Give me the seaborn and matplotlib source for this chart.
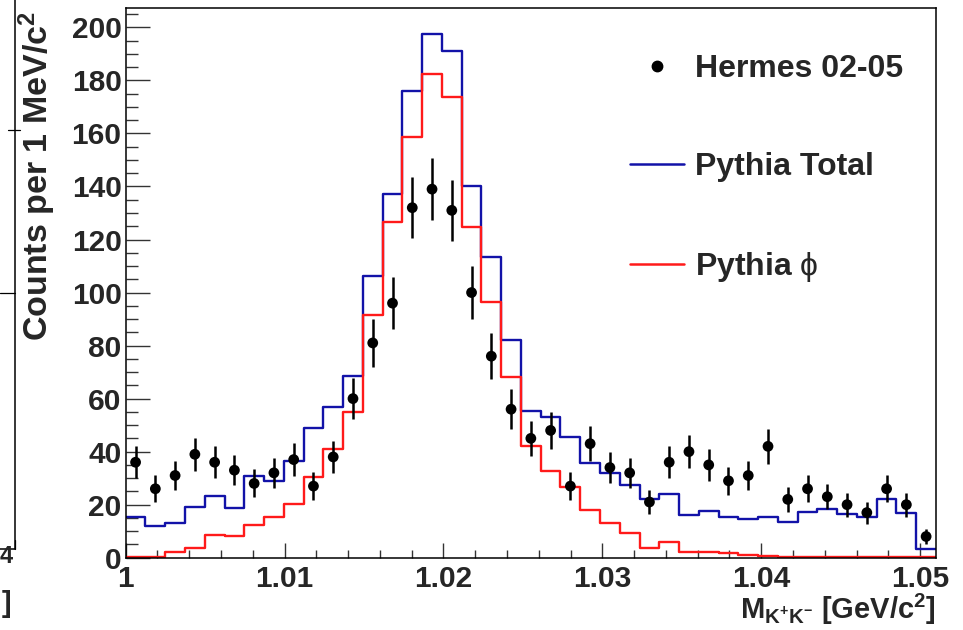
import numpy as np
import pandas as pd
import matplotlib
matplotlib.use("Agg")
import matplotlib.pyplot as plt
from matplotlib.lines import Line2D
from matplotlib.ticker import MultipleLocator, FixedLocator, FixedFormatter
import seaborn as sns

# K+K- invariant mass binning (GeV/c^2)
mass_lo = 1.000
mass_hi = 1.051
n_bins = 41

# Measured counts per bin
hermes_counts = [36, 26, 31, 39, 36, 33, 28, 32, 37, 27,
                 38, 60, 81, 96, 132, 139, 131, 100, 76, 56,
                 45, 48, 27, 43, 34, 32, 21, 36, 40, 35,
                 29, 31, 42, 22, 26, 23, 20, 17, 26, 20,
                 8]

# Monte Carlo expectations per bin
pythia_total = [15.2, 12.0, 13.2, 19.2, 23.4, 18.7, 30.7, 29.0, 36.6, 48.8,
                57.0, 68.5, 106.2, 137.0, 176.1, 197.5, 191.0, 140.3, 113.5, 82.0,
                55.4, 53.2, 45.5, 35.6, 31.8, 27.6, 22.1, 23.9, 16.1, 17.7,
                15.5, 14.6, 15.2, 13.5, 17.1, 18.2, 16.4, 15.2, 22.1, 17.0,
                3.3]
pythia_phi = [0.15, 0.4, 2.0, 3.5, 8.7, 8.2, 12.2, 15.5, 20.2, 30.3,
              40.9, 54.8, 91.5, 126.7, 158.5, 182.4, 173.8, 124.6, 96.3, 68.0,
              42.1, 32.8, 26.7, 18.0, 13.0, 9.2, 3.6, 5.9, 2.3, 2.3,
              1.6, 1.1, 0.5, 0.4, 0.4, 0.3, 0.3, 0.3, 0.3, 0.3,
              0.2]

x_tick_values = [1.00, 1.01, 1.02, 1.03, 1.04, 1.05]
x_tick_labels = ["1", "1.01", "1.02", "1.03", "1.04", "1.05"]
y_tick_values = [0, 20, 40, 60, 80, 100, 120, 140, 160, 180, 200]
y_tick_labels = [str(v) for v in y_tick_values]

series_names = ["Hermes 02-05", "Pythia Total", "Pythia $\\mathrm{\\phi}$"]

edges = np.linspace(mass_lo, mass_hi, n_bins + 1)
centers = 0.5 * (edges[:-1] + edges[1:])
df = pd.DataFrame({
    "mass": centers,
    "counts": hermes_counts,
    "total": pythia_total,
    "phi": pythia_phi,
})
df["err"] = np.sqrt(df["counts"])

sns.set_theme(style="white")
plt.rcParams["font.family"] = ["Liberation Sans", "DejaVu Sans"]
plt.rcParams["mathtext.fontset"] = "custom"
plt.rcParams["mathtext.rm"] = "Liberation Sans"
plt.rcParams["mathtext.bf"] = "Liberation Sans:bold"
plt.rcParams["mathtext.it"] = "Liberation Sans:italic"
plt.rcParams["mathtext.sf"] = "Liberation Sans"

W, H = 963, 630
fig = plt.figure(figsize=(W / 100, H / 100), dpi=100)
fig.patch.set_facecolor("white")
ax_l, ax_r, ax_t, ax_b = 125.7, 936.0, 8.3, 557.7
ax = fig.add_axes([ax_l / W, 1 - ax_b / H, (ax_r - ax_l) / W, (ax_b - ax_t) / H])
ax.set_facecolor("white")

blue = "#1212a8"
red = "#ff1a1a"

sns.histplot(data=df, x="mass", weights="total", bins=n_bins,
             binrange=(mass_lo, mass_hi), element="step",
             fill=False, color=blue, linewidth=1.7, ax=ax)
sns.histplot(data=df, x="mass", weights="phi", bins=n_bins,
             binrange=(mass_lo, mass_hi), element="step",
             fill=False, color=red, linewidth=1.7, ax=ax)

ax.errorbar(df["mass"], df["counts"], yerr=df["err"], fmt="none",
            ecolor="black", elinewidth=1.8, capsize=0, zorder=4)
sns.scatterplot(data=df, x="mass", y="counts", color="black", s=60,
                edgecolor="none", ax=ax, zorder=5)

ax.set_xlim(mass_lo, mass_hi)
ax.set_ylim(0, 207.2)

ax.xaxis.set_major_locator(FixedLocator(x_tick_values))
ax.xaxis.set_major_formatter(FixedFormatter(x_tick_labels))
ax.xaxis.set_minor_locator(MultipleLocator(0.002))
ax.yaxis.set_major_locator(FixedLocator(y_tick_values))
ax.yaxis.set_major_formatter(FixedFormatter(y_tick_labels))
ax.yaxis.set_minor_locator(MultipleLocator(5))

ax.tick_params(axis="x", which="major", direction="in", length=11, width=1.0,
               color="#333333", labelsize=21.5, pad=5.5)
ax.tick_params(axis="x", which="minor", direction="in", length=5.5, width=1.0,
               color="#333333")
ax.tick_params(axis="y", which="major", direction="in", length=17, width=1.0,
               color="#333333", labelsize=21.5, pad=3)
ax.tick_params(axis="y", which="minor", direction="in", length=8.5, width=1.0,
               color="#333333")
ax.tick_params(bottom=True, left=True, top=False, right=False, which="both")
for lab in ax.get_xticklabels() + ax.get_yticklabels():
    lab.set_fontweight("bold")

for sp in ax.spines.values():
    sp.set_visible(True)
    sp.set_color("black")
    sp.set_linewidth(1.1)

ax.set_ylabel("Counts per 1 MeV/c$^{\\mathbf{2}}$", fontsize=24.5, fontweight="bold",
              loc="top")
ax.yaxis.set_label_coords(-0.083, 0.995)
ax.set_xlabel("$\\mathbf{M_{K^{+}K^{-}}}$ [GeV/c$^{\\mathbf{2}}$]", fontsize=21,
              fontweight="bold", loc="right")
ax.xaxis.set_label_coords(1.0, -0.062)

leg_handles = [
    Line2D([], [], marker="o", ls="none", color="black", markersize=7.5),
    Line2D([], [], color=blue, lw=1.8),
    Line2D([], [], color=red, lw=1.8),
]
leg = ax.legend(leg_handles, series_names, loc="upper left",
                bbox_to_anchor=((630.0 - ax_l) / (ax_r - ax_l), 1 - (54 - ax_t) / (ax_b - ax_t)),
                frameon=False, borderpad=0, borderaxespad=0,
                handlelength=1.7, handletextpad=0.33, labelspacing=2.13,
                prop={"size": 23, "weight": "bold"})

# Edge of the neighbouring panel on the left
def fig_line(x0, y0, x1, y1, lw=1.0):
    fig.add_artist(Line2D([x0 / W, x1 / W], [1 - y0 / H, 1 - y1 / H],
                          transform=fig.transFigure, color="black", lw=lw))

fig_line(15, 0, 15, 549, lw=1.1)
fig_line(0, 549, 15, 549, lw=1.1)
fig_line(8, 130, 20, 130, lw=0.9)
fig_line(0, 293, 15, 293, lw=0.9)
fig_line(15, 540, 15, 549, lw=0.9)
fig.text(13 / W, 1 - 563 / H, "4", fontsize=17, fontweight="bold",
         ha="right", va="baseline")
fig.text(11 / W, 1 - 612 / H, "]", fontsize=21, fontweight="bold",
         ha="right", va="baseline")

fig.savefig("out.png", dpi=100)
